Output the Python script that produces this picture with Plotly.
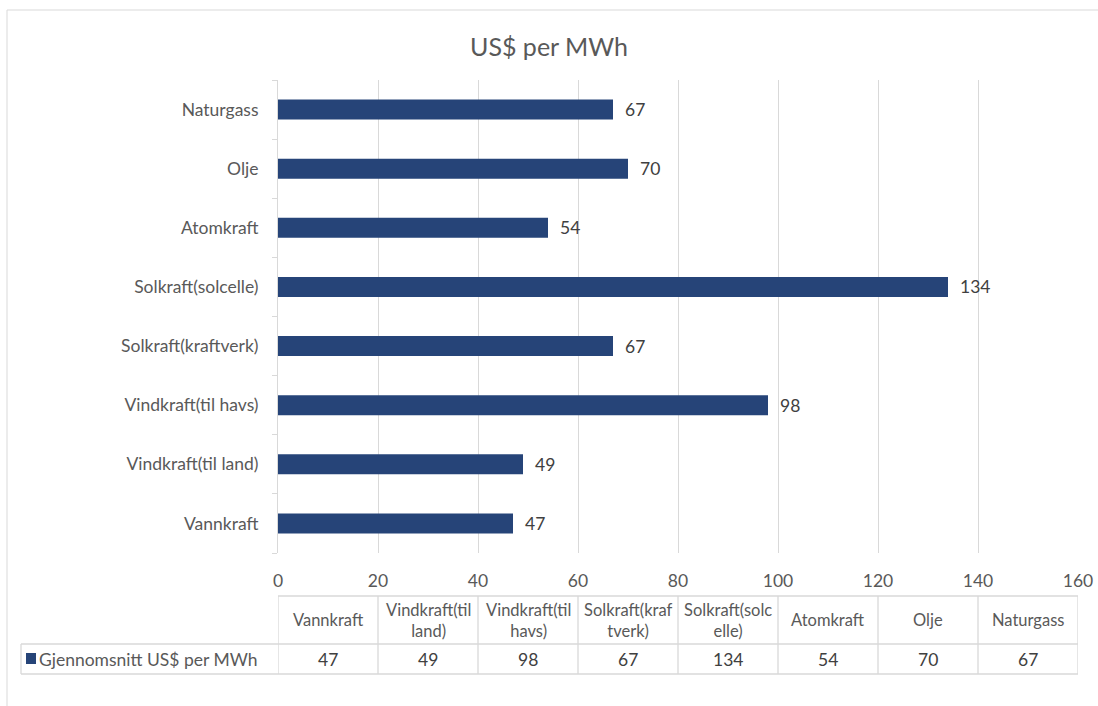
import plotly.graph_objects as go

categories = ["Vannkraft", "Vindkraft(til land)", "Vindkraft(til havs)", "Solkraft(kraftverk)",
              "Solkraft(solcelle)", "Atomkraft", "Olje", "Naturgass"]
values = [47, 49, 98, 67, 134, 54, 70, 67]
table_headers = ["Vannkraft", "Vindkraft(til<br>land)", "Vindkraft(til<br>havs)", "Solkraft(kraf<br>tverk)",
                 "Solkraft(solc<br>elle)", "Atomkraft", "Olje", "Naturgass"]
series_name = "Gjennomsnitt US$ per MWh"
x_ticks = [0, 20, 40, 60, 80, 100, 120, 140, 160]

W, H = 1098, 706
ML, MR, MT, MB = 278, 20, 80, 153
PW, PH = W - ML - MR, H - MT - MB

def px(xp):
    return (xp - ML) / PW

def py(yp):
    return (H - MB - yp) / PH

FONT = "Lato"
BAR = "#264478"
GRID = "#d9d9d9"
TXT = "#595959"
LAB = "#404040"
FS = 17.5

fig = go.Figure()
fig.add_trace(go.Bar(
    y=categories, x=values, orientation="h",
    marker=dict(color=BAR, line=dict(width=0)),
    showlegend=False, hoverinfo="x+y",
))

annotations = []
for c, v in zip(categories, values):
    annotations.append(dict(x=v, y=c, xref="x", yref="y", text=str(v), showarrow=False,
                            xanchor="left", xshift=10, font=dict(family=FONT, size=FS, color=LAB)))

shapes = []
# outer frame
shapes.append(dict(type="rect", xref="paper", yref="paper", x0=px(7), x1=px(1110), y0=py(720), y1=py(10),
                   line=dict(color=GRID, width=1), layer="below"))

# data table
t_top, t_mid, t_bot = py(596), py(644), py(674)
col_w = x_ticks[1] - x_ticks[0]
for i in range(len(categories) + 1):
    xv = x_ticks[0] + i * col_w
    shapes.append(dict(type="line", xref="x", yref="paper", x0=xv, x1=xv, y0=t_bot, y1=t_top,
                       line=dict(color=GRID, width=1.3)))
for yv in (t_top, t_mid, t_bot):
    shapes.append(dict(type="line", xref="x", yref="paper", x0=x_ticks[0], x1=x_ticks[-1], y0=yv, y1=yv,
                       line=dict(color=GRID, width=1.3)))
# legend cell
leg_l = px(21)
for yv in (t_mid, t_bot):
    shapes.append(dict(type="line", xref="paper", yref="paper", x0=leg_l, x1=0, y0=yv, y1=yv,
                       line=dict(color=GRID, width=1.3)))
shapes.append(dict(type="line", xref="paper", yref="paper", x0=leg_l, x1=leg_l, y0=t_bot, y1=t_mid,
                   line=dict(color=GRID, width=1.3)))
# legend key
shapes.append(dict(type="rect", xref="paper", yref="paper", x0=px(26), x1=px(36), y0=py(664), y1=py(653),
                   fillcolor=BAR, line=dict(width=0)))
annotations.append(dict(x=px(37), y=(t_mid + t_bot) / 2, xref="paper", yref="paper", text=series_name,
                        showarrow=False, xanchor="left", yanchor="middle",
                        font=dict(family=FONT, size=FS, color=TXT)))

for i, (h, v) in enumerate(zip(table_headers, values)):
    xc = x_ticks[0] + (i + 0.5) * col_w
    annotations.append(dict(x=xc, y=(t_top + t_mid) / 2, xref="x", yref="paper", text=h, showarrow=False,
                            xanchor="center", yanchor="middle",
                            font=dict(family=FONT, size=FS - 1, color=TXT)))
    annotations.append(dict(x=xc, y=(t_mid + t_bot) / 2, xref="x", yref="paper", text=str(v), showarrow=False,
                            xanchor="center", yanchor="middle",
                            font=dict(family=FONT, size=FS, color=LAB)))

fig.update_layout(
    width=W, height=H, autosize=False,
    margin=dict(l=ML, r=MR, t=MT, b=MB, pad=0, autoexpand=False),
    paper_bgcolor="white", plot_bgcolor="white",
    title=dict(text="US$ per MWh", x=0.5, xanchor="center", y=1 - 47 / H, yanchor="middle",
               font=dict(family=FONT, size=25, color=TXT), automargin=False),
    bargap=0.66,
    xaxis=dict(range=[x_ticks[0], x_ticks[-1]], tickvals=x_ticks, showgrid=True, gridcolor=GRID, gridwidth=1,
               zeroline=False, showline=False, ticks="", ticklabelstandoff=15, automargin=False,
               tickfont=dict(family=FONT, size=FS, color=TXT), fixedrange=True),
    yaxis=dict(type="category", categoryorder="array", categoryarray=categories, automargin=False,
               showgrid=False, zeroline=False, showline=True, linecolor=GRID, linewidth=1,
               ticks="outside", tickson="boundaries", ticklen=5, tickcolor=GRID, ticklabelstandoff=15,
               tickfont=dict(family=FONT, size=FS, color=TXT), fixedrange=True),
    shapes=shapes, annotations=annotations,
    font=dict(family=FONT),
)

fig.write_html("out.html")
